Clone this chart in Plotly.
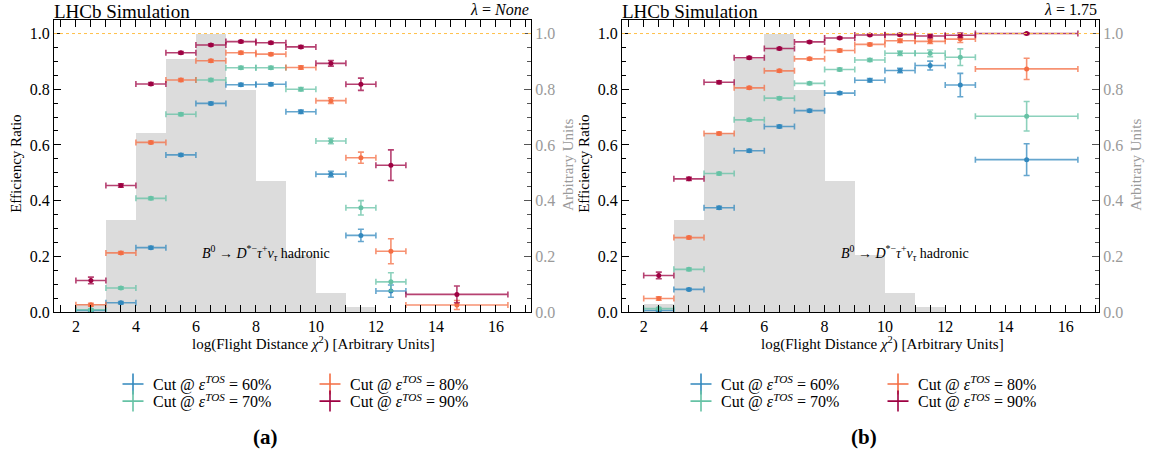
import plotly.graph_objects as go

# ---------------- data ----------------
bin_centers = [2.5, 3.5, 4.5, 5.5, 6.5, 7.5, 8.5, 9.5, 10.5, 11.5, 12.5, 14.7]
bin_err_minus = [0.5] * 11 + [1.7]
bin_err_plus = [0.5] * 11 + [1.7]

hist_centers = [2.5, 3.5, 4.5, 5.5, 6.5, 7.5, 8.5, 9.5, 10.5, 11.5]
hist_values = [0.03, 0.333, 0.645, 0.91, 1.0, 0.80, 0.47, 0.205, 0.07, 0.018]

# panel (a): lambda = None
eff60_a = [0.005, 0.033, 0.231, 0.564, 0.749, 0.816, 0.818, 0.719, 0.495, 0.275, 0.075, None]
eff70_a = [0.008, 0.086, 0.408, 0.710, 0.833, 0.877, 0.877, 0.800, 0.614, 0.374, 0.108, None]
eff80_a = [0.026, 0.212, 0.609, 0.833, 0.902, 0.931, 0.926, 0.878, 0.759, 0.554, 0.218, 0.025]
eff90_a = [0.113, 0.454, 0.819, 0.931, 0.959, 0.971, 0.967, 0.952, 0.893, 0.818, 0.527, 0.063]
err60_a = [0.003, 0.004, 0.005, 0.005, 0.005, 0.005, 0.005, 0.006, 0.010, 0.022, 0.022, 0.0]
err70_a = [0.003, 0.004, 0.005, 0.005, 0.005, 0.005, 0.005, 0.006, 0.010, 0.026, 0.033, 0.0]
err80_a = [0.005, 0.005, 0.005, 0.005, 0.005, 0.005, 0.005, 0.006, 0.010, 0.020, 0.045, 0.016]
err90_a = [0.012, 0.006, 0.005, 0.004, 0.004, 0.004, 0.004, 0.005, 0.010, 0.022, 0.055, 0.030]

# panel (b): lambda = 1.75
eff60_b = [0.005, 0.081, 0.374, 0.579, 0.666, 0.723, 0.786, 0.832, 0.867, 0.885, 0.815, 0.547]
eff70_b = [0.012, 0.153, 0.497, 0.690, 0.768, 0.821, 0.871, 0.905, 0.929, 0.929, 0.915, 0.703]
eff80_b = [0.048, 0.267, 0.641, 0.805, 0.866, 0.909, 0.939, 0.961, 0.974, 0.972, 0.980, 0.873]
eff90_b = [0.131, 0.478, 0.825, 0.913, 0.946, 0.970, 0.984, 0.995, 0.996, 0.991, 0.994, 1.000]
err60_b = [0.003, 0.004, 0.005, 0.005, 0.005, 0.005, 0.005, 0.006, 0.008, 0.016, 0.042, 0.057]
err70_b = [0.004, 0.005, 0.005, 0.005, 0.005, 0.005, 0.005, 0.005, 0.008, 0.012, 0.030, 0.053]
err80_b = [0.006, 0.005, 0.005, 0.005, 0.005, 0.005, 0.005, 0.005, 0.006, 0.008, 0.012, 0.038]
err90_b = [0.012, 0.006, 0.005, 0.004, 0.004, 0.004, 0.003, 0.003, 0.004, 0.006, 0.008, 0.003]

cut_labels = ["60%", "70%", "80%", "90%"]
colors = ["#3288bd", "#66c2a5", "#f46d43", "#9e0142"]
colors_rgba = ["rgba(50,136,189,0.75)", "rgba(102,194,165,0.75)",
               "rgba(244,109,67,0.75)", "rgba(158,1,66,0.75)"]

FONT = "Liberation Serif"
W = 1153
H = 472

fig = go.Figure()

# ---------------- histograms (background, base axes) ----------------
for xa, ya in [("x", "y"), ("x2", "y3")]:
    fig.add_trace(go.Bar(x=hist_centers, y=hist_values, width=1.0,
                         marker=dict(color="#dcdcdc", line=dict(width=0)),
                         xaxis=xa, yaxis=ya, showlegend=False, hoverinfo="skip"))

# ---------------- efficiency points ----------------
panels = [
    ("x", "y2", [eff60_a, eff70_a, eff80_a, eff90_a], [err60_a, err70_a, err80_a, err90_a]),
    ("x2", "y4", [eff60_b, eff70_b, eff80_b, eff90_b], [err60_b, err70_b, err80_b, err90_b]),
]
for xa, ya, effs, errs in panels:
    for i in range(4):
        fig.add_trace(go.Scatter(
            x=bin_centers, y=effs[i], mode="markers",
            marker=dict(color=colors[i], size=5),
            error_y=dict(type="data", array=errs[i], color=colors_rgba[i], thickness=1.6, width=3),
            error_x=dict(type="data", symmetric=False, array=bin_err_plus, arrayminus=bin_err_minus,
                         color=colors_rgba[i], thickness=1.6, width=3),
            xaxis=xa, yaxis=ya, showlegend=False))


def px_x(p):
    return p / W


def px_y(p):
    return 1 - p / H


# ---------------- legends (one single-entry legend per slot) ----------------
legend_slots = [(0, 155, 391.5), (1, 155, 409), (2, 352, 391.5), (3, 352, 409)]
legend_layout = {}
k = 0
for off in [0, 568]:
    for i, tx, ty in legend_slots:
        k += 1
        lname = "legend" if k == 1 else "legend%d" % k
        fig.add_trace(go.Scatter(
            x=[None], y=[None], mode="markers",
            marker=dict(symbol="cross-thin-open", size=15, color=colors[i],
                        line=dict(width=1.6, color=colors_rgba[i])),
            name="Cut @ <i>ε</i><sup><i>TOS</i></sup> = " + cut_labels[i],
            legend=lname, showlegend=True, xaxis="x", yaxis="y2"))
        legend_layout[lname] = dict(
            x=px_x(tx + off - 42), y=px_y(ty), xanchor="left", yanchor="middle",
            orientation="v", bgcolor="rgba(0,0,0,0)", borderwidth=0,
            font=dict(family=FONT, size=16, color="black"), itemwidth=30)

# ---------------- axes ----------------
xdom_a = [px_x(54), px_x(531)]
xdom_b = [px_x(622), px_x(1099)]
ydom = [px_y(318), px_y(20)]


def xaxis_cfg(dom, anchor, rng):
    return dict(domain=dom, anchor=anchor, range=rng, showgrid=False, zeroline=False,
                showline=True, linecolor="black", linewidth=1.2, mirror="allticks",
                ticks="inside", ticklen=7, tickwidth=1, tickcolor="black",
                tick0=0, dtick=2, tickfont=dict(family=FONT, size=16, color="black"),
                minor=dict(ticks="inside", ticklen=4, tickwidth=1, tickcolor="black", dtick=0.5, tick0=0,
                           showgrid=False))


def yaxis_right_cfg(anchor):
    return dict(domain=ydom, anchor=anchor, side="right", range=[0, 1.05], showgrid=False, zeroline=False,
                showline=True, linecolor="black", linewidth=1.2,
                ticks="inside", ticklen=7, tickwidth=1, tickcolor="#555555",
                tick0=0, dtick=0.2, tickformat=".1f",
                tickfont=dict(family=FONT, size=16, color="#9a9a9a"),
                minor=dict(ticks="inside", ticklen=4, tickwidth=1, tickcolor="#555555", dtick=0.05, tick0=0,
                           showgrid=False))


def yaxis_left_cfg(anchor, over):
    return dict(anchor=anchor, overlaying=over, side="left", range=[0, 1.05], showgrid=False,
                zeroline=False, showline=True, linecolor="black", linewidth=1.2,
                ticks="inside", ticklen=7, tickwidth=1, tickcolor="black",
                tick0=0, dtick=0.2, tickformat=".1f",
                tickfont=dict(family=FONT, size=16, color="black"),
                minor=dict(ticks="inside", ticklen=4, tickwidth=1, tickcolor="black", dtick=0.05, tick0=0,
                           showgrid=False))


title_font = dict(family=FONT, size=19, color="black")
lab_font = dict(family=FONT, size=15, color="black")
gray_font = dict(family=FONT, size=15, color="#9a9a9a")
decay = "<i>B</i><sup>0</sup> → <i>D</i><sup>*−</sup><i>τ</i><sup>+</sup><i>ν</i><sub><i>τ</i></sub> hadronic"

annotations = []
for off, lam, dec_x, xr, yr in [(0, "<i>None</i>", 6.13, "x", "y2"), (568, "1.75", 8.49, "x2", "y4")]:
    annotations += [
        dict(text="LHCb Simulation", x=px_x(52 + off), y=1.0, xref="paper", yref="paper",
             xanchor="left", yanchor="top", yshift=1, showarrow=False, font=title_font),
        dict(text="<i>λ</i> = " + lam, x=px_x(531 + off), y=px_y(20), xref="paper", yref="paper",
             xanchor="right", yanchor="bottom", showarrow=False, font=dict(family=FONT, size=16)),
        dict(text="log(Flight Distance <i>χ</i><sup>2</sup>) [Arbitrary Units]", x=px_x(314 + off),
             y=px_y(350), xref="paper", yref="paper", xanchor="center", yanchor="middle",
             showarrow=False, font=lab_font),
        dict(text="Efficiency Ratio", x=px_x(16 + off), y=px_y(167), xref="paper", yref="paper",
             xanchor="center", yanchor="middle", textangle=-90, showarrow=False, font=lab_font),
        dict(text="Arbitrary Units", x=px_x(568 + off), y=px_y(168), xref="paper", yref="paper",
             xanchor="center", yanchor="middle", textangle=-90, showarrow=False, font=gray_font),
        dict(text=decay, x=dec_x, y=0.21, xref=xr, yref=yr, xanchor="left", yanchor="middle",
             showarrow=False, font=dict(family=FONT, size=14, color="black")),
    ]
annotations += [
    dict(text="<b>(a)</b>", x=px_x(265), y=px_y(446), xref="paper", yref="paper", xanchor="center",
         yanchor="middle", showarrow=False, font=dict(family=FONT, size=21, color="black")),
    dict(text="<b>(b)</b>", x=px_x(864), y=px_y(446), xref="paper", yref="paper", xanchor="center",
         yanchor="middle", showarrow=False, font=dict(family=FONT, size=21, color="black")),
]

shapes = [
    dict(type="line", xref="x domain", yref="y2", x0=0, x1=1, y0=1, y1=1,
         line=dict(color="#ffc04a", width=1, dash="dot"), layer="above"),
    dict(type="line", xref="x2 domain", yref="y4", x0=0, x1=1, y0=1, y1=1,
         line=dict(color="#ffc04a", width=1, dash="dot"), layer="above"),
]

fig.update_layout(
    width=W, height=H, margin=dict(l=0, r=0, t=0, b=0),
    paper_bgcolor="white", plot_bgcolor="white",
    font=dict(family=FONT, color="black"),
    barmode="overlay", bargap=0,
    xaxis=xaxis_cfg(xdom_a, "y", [1.27, 17.17]),
    yaxis=yaxis_right_cfg("x"),
    yaxis2=yaxis_left_cfg("x", "y"),
    xaxis2=xaxis_cfg(xdom_b, "y3", [1.28, 17.1]),
    yaxis3=yaxis_right_cfg("x2"),
    yaxis4=yaxis_left_cfg("x2", "y3"),
    annotations=annotations, shapes=shapes,
    **legend_layout,
)

fig.write_html("out.html")
